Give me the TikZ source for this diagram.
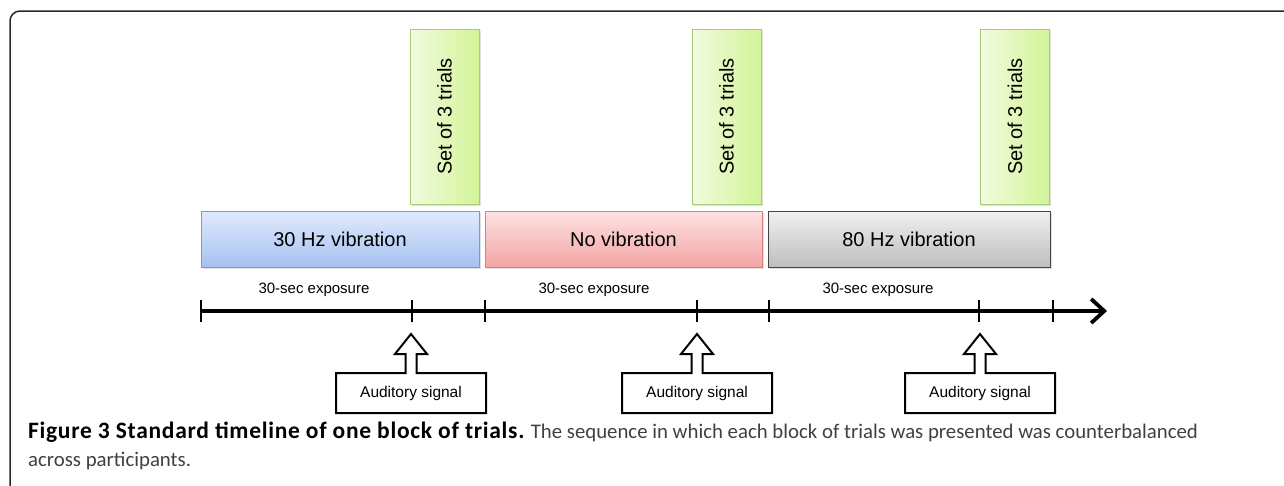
\documentclass[tikz,border=0pt]{standalone}
\usepackage{fontspec}
\setmainfont{Liberation Sans}
\newfontfamily\capfont{Carlito}
\newfontfamily\capbold[LetterSpace=3]{Carlito Bold}
\usetikzlibrary{arrows.meta,shadows}
\tikzset{
  cond/.style={draw, inner sep=0pt, line width=1pt, font=\fontsize{20}{24}\selectfont,
    drop shadow={opacity=0.25, shadow xshift=1.5pt, shadow yshift=-1.5pt}},
  bluebox/.style={cond, draw={rgb,255:red,122;green,154;blue,208}, top color={rgb,255:red,224;green,234;blue,252}, bottom color={rgb,255:red,166;green,194;blue,240}},
  redbox/.style={cond, draw={rgb,255:red,216;green,128;blue,128}, top color={rgb,255:red,253;green,226;blue,226}, bottom color={rgb,255:red,243;green,164;blue,164}},
  graybox/.style={cond, draw={rgb,255:red,70;green,70;blue,70}, top color={rgb,255:red,240;green,240;blue,240}, bottom color={rgb,255:red,190;green,190;blue,190}},
  trialbox/.style={cond, draw={rgb,255:red,168;green,204;blue,122}, left color={rgb,255:red,242;green,251;blue,224}, right color={rgb,255:red,210;green,244;blue,150},
    minimum width=69pt, minimum height=175pt},
  expo/.style={font=\fontsize{15}{17}\selectfont, inner sep=0pt},
  audtext/.style={font=\fontsize{15.5}{17}\selectfont, inner sep=0pt},
  tick/.style={line width=2pt},
  audshape/.style={line width=2pt, fill=white},
}
\newcommand{\audsig}[2]{%
  \draw[audshape] (#1-75,413) -- (#1-75,373) -- (#1-5.5,373) -- (#1-5.5,354) -- (#1-16,354) -- (#1,334)
    -- (#1+16,354) -- (#1+5.5,354) -- (#1+5.5,373) -- (#1+75,373) -- (#1+75,413) -- cycle;
  \node[audtext] (#2) at (#1,393) {Auditory signal};}
\begin{document}
\begin{tikzpicture}[x=1pt,y=-1pt]
\useasboundingbox (0,0) rectangle (1284,485);
% frame
\draw[line width=1.5pt, color={rgb,255:red,40;green,40;blue,40}, rounded corners=10pt] (10,495) -- (10,11) -- (1295,11);
% trial boxes
\node[trialbox] (t1) at (444.5,116.5) {\rotatebox{90}{Set of 3 trials}};
\node[trialbox] (t2) at (726.5,116.5) {\rotatebox{90}{Set of 3 trials}};
\node[trialbox] (t3) at (1015,116.5) {\rotatebox{90}{Set of 3 trials}};
% condition boxes
\node[bluebox, minimum width=278pt, minimum height=56pt] (c1) at (340,239) {30 Hz vibration};
\node[redbox, minimum width=277pt, minimum height=56pt] (c2) at (623.5,239) {No vibration};
\node[graybox, minimum width=282pt, minimum height=56pt] (c3) at (909,239) {80 Hz vibration};
% timeline
\coordinate (s) at (201,311);
\coordinate (e) at (1107,311);
\draw[line width=3.8pt, -{Straight Barb[length=13pt,width=24pt,line width=3.8pt]}] (s) -- (e);
\foreach \x in {201,412,485,697,769,979,1053}{\draw[tick] (\x,300) -- (\x,322);}
\node[expo] (x1) at (314,290) {30-sec exposure};
\node[expo] (x2) at (594,290) {30-sec exposure};
\node[expo] (x3) at (878,290) {30-sec exposure};
% auditory signals
\audsig{411}{a1}
\audsig{697}{a2}
\audsig{980}{a3}
% caption
\node[anchor=base west, inner sep=0pt, font=\capfont\fontsize{20.8}{24}\selectfont] (cap1) at (28,438)
  {{\capbold\fontsize{23.5}{26}\selectfont Figure 3 Standard timeline of one block of trials.} \textcolor[rgb]{0.25,0.25,0.25}{The sequence in which each block of trials was presented was counterbalanced}};
\node[anchor=base west, inner sep=0pt, font=\capfont\fontsize{20.8}{24}\selectfont, text={rgb,255:red,64;green,64;blue,64}] (cap2) at (28,466)
  {across participants.};
\end{tikzpicture}
\end{document}
